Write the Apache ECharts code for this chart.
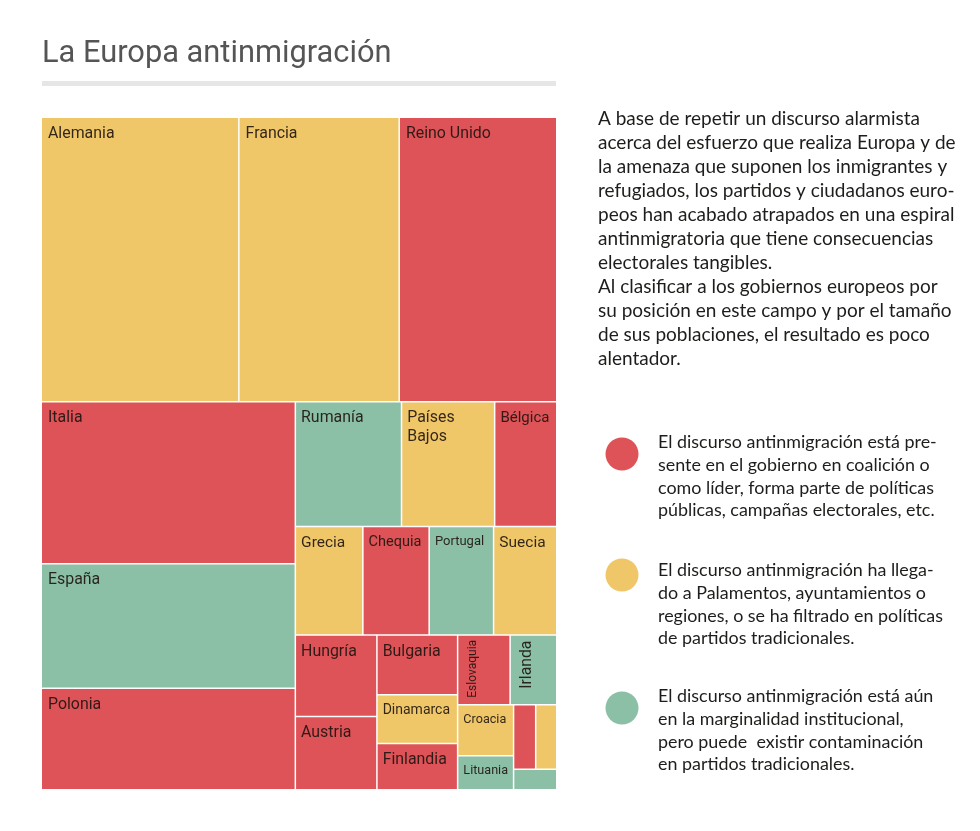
<!DOCTYPE html>
<html><head><meta charset="utf-8">
<style>html,body{margin:0;padding:0;background:#fff}#c{width:980px;height:831px}</style>
<script src="https://cdn.jsdelivr.net/npm/echarts@6/dist/echarts.min.js"></script>
</head><body><div id="c"></div>
<script>
const titleText = 'La Europa antinmigración';
const countries = ['Alemania','Francia','Reino Unido','Italia','España','Polonia','Rumanía','Países Bajos','Bélgica','Grecia','Chequia','Portugal','Suecia','Hungría','Austria','Bulgaria','Dinamarca','Finlandia','Eslovaquia','Irlanda','Croacia','Lituania','Eslovenia','Letonia','Estonia'];
const population = [82.8,67.2,66.0,60.6,46.6,38.0,19.5,17.1,11.4,10.8,10.6,10.3,10.1,9.8,8.8,7.1,5.8,5.5,5.4,4.8,4.2,2.8,2.1,2.0,1.3];
const stance = ['m','m','a','a','b','a','b','m','a','m','a','b','m','a','a','a','m','a','a','b','m','b','a','m','b'];
const unlabeled = ['Eslovenia','Letonia','Estonia'];
const bodyLines = ['A base de repetir un discurso alarmista','acerca del esfuerzo que realiza Europa y de','la amenaza que suponen los inmigrantes y','refugiados, los partidos y ciudadanos euro-','peos han acabado atrapados en una espiral','antinmigratoria que tiene consecuencias','electorales tangibles.','Al clasificar a los gobiernos europeos por','su posición en este campo y por el tamaño','de sus poblaciones, el resultado es poco','alentador.'];
const legendA = ['El discurso antinmigración está pre-','sente en el gobierno en coalición o','como líder, forma parte de políticas','públicas, campañas electorales, etc.'];
const legendM = ['El discurso antinmigración ha llega-','do a Palamentos, ayuntamientos o','regiones, o se ha filtrado en políticas','de partidos tradicionales.'];
const legendB = ['El discurso antinmigración está aún','en la marginalidad institucional,','pero puede  existir contaminación','en partidos tradicionales.'];

const colors = {a:'#DD5357', m:'#F0C768', b:'#8BC0A7'};
const pad=[8,0,0,5];
const labelStyle = {
  'Países Bajos':{formatter:'Países\nBajos',lineHeight:19,padding:[6,0,0,5]},
  'Rumanía':{padding:pad},'Grecia':{padding:pad,fontSize:15.5},'Hungría':{padding:pad},'Austria':{padding:pad},'Bulgaria':{padding:pad},'Finlandia':{padding:pad},
  'Bélgica':{fontSize:15,padding:pad},'Suecia':{fontSize:15.5,padding:pad},'Portugal':{fontSize:13,padding:pad},
  'Chequia':{fontSize:14.5,padding:pad},'Dinamarca':{fontSize:14,padding:pad},
  'Croacia':{fontSize:12.6,padding:pad},'Lituania':{fontSize:12.6,padding:pad},
  'Eslovaquia':{fontSize:12,rotate:90,position:[15,62],align:'left',verticalAlign:'middle',padding:0},
  'Irlanda':{fontSize:15.7,rotate:90,position:[16,53],align:'left',verticalAlign:'middle',padding:0}
};
const data = countries.map((name,i)=>({
  name, value:population[i],
  itemStyle:{color:colors[stance[i]]},
  label: unlabeled.includes(name) ? {show:false} : (labelStyle[name]||{})
}));
const textFont='Lato';
const txt=(lines,x,y,fs,lh)=>({type:'text',x,y,silent:true,style:{text:lines.join('\n'),font:fs+'px '+textFont,lineHeight:lh,fill:'#1d1d1b',textVerticalAlign:'top'}});
const chart=echarts.init(document.getElementById('c'),null,{renderer:'canvas'});
chart.setOption({
  animation:false,
  backgroundColor:'#fff',
  title:{text:titleText,left:42,top:39,padding:0,textStyle:{fontFamily:'Roboto',fontWeight:400,fontSize:30.8,color:'#555'}},
  tooltip:{show:false},
  graphic:[
    {type:'rect',shape:{x:42,y:81,width:514,height:5},style:{fill:'#e6e6e6'},silent:true},
    txt(bodyLines,598,107,19,24),
    {type:'circle',shape:{cx:622,cy:454,r:16.5},style:{fill:colors.a},silent:true},
    {type:'circle',shape:{cx:622,cy:575,r:16.5},style:{fill:colors.m},silent:true},
    {type:'circle',shape:{cx:622,cy:708,r:16.5},style:{fill:colors.b},silent:true},
    txt(legendA,658,431,17.9,22.7),
    txt(legendM,658,559,17.9,22.7),
    txt(legendB,658,685,17.9,22.7)
  ],
  series:[{
    type:'treemap',left:42,top:118,width:514,height:671,
    roam:false,nodeClick:false,breadcrumb:{show:false},sort:'desc',
    squareRatio:1.618,visibleMin:0,
    label:{show:true,position:'insideTopLeft',padding:[8,0,0,6],overflow:'none',
      fontFamily:'Roboto',fontSize:15.9,color:'rgba(30,20,15,.9)'},
    itemStyle:{borderColor:'#fff',borderWidth:0,gapWidth:1.5},
    levels:[{itemStyle:{gapWidth:1.5,borderWidth:0}}],
    data
  }]
});
</script></body></html>
